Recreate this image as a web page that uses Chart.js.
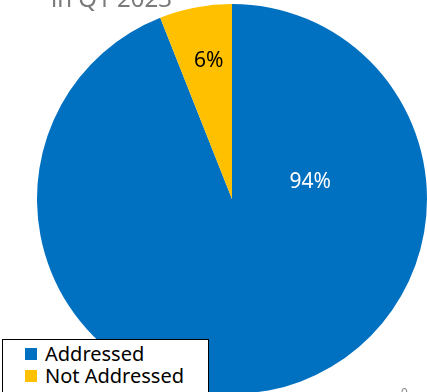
<!DOCTYPE html>
<html>
<head>
<meta charset="utf-8">
<script src="https://cdn.jsdelivr.net/npm/chart.js@4/dist/chart.umd.min.js"></script>
<style>
  html, body { margin: 0; padding: 0; background: #fff; }
  #page { position: relative; width: 427px; height: 392px; overflow: hidden; font-family: "Noto Sans", sans-serif; }
  #chartBox { position: absolute; left: 37px; top: 4px; width: 390px; height: 390px; }
  #title { position: absolute; left: 51px; top: -19px; font-size: 24px; color: #7a7a7a; white-space: nowrap; line-height: 34px; }
  #legend { position: absolute; left: 2px; top: 339px; width: 205px; height: 60px; border: 1px solid #000; background: #fff; }
  .item { position: absolute; left: 22px; height: 22px; font-size: 20px; line-height: 22px; color: #000; white-space: nowrap; }
  .item span { display: inline-block; width: 12px; height: 12px; margin-right: 8px; vertical-align: 1px; }
  #pageNo { position: absolute; left: 401px; top: 384px; font-size: 12px; color: #8a8a8a; }
</style>
</head>
<body>
<div id="page">
  <div id="chartBox"><canvas id="pieChart"></canvas></div>
  <div id="title">in Q1 2023</div>
  <div id="legend"></div>
  <div id="pageNo">9</div>
</div>
<script>
var categories = ['Addressed', 'Not Addressed'];
var shares = [94, 6];
var sliceColors = ['#0070C0', '#FFC000'];
var labelColors = ['#ffffff', '#000000'];

document.addEventListener('DOMContentLoaded', function() {
    // legend built from the same arrays
    var legend = document.getElementById('legend');
    categories.forEach(function(name, i) {
        var row = document.createElement('div');
        row.className = 'item';
        row.style.top = (3 + i * 22) + 'px';
        var sw = document.createElement('span');
        sw.style.background = sliceColors[i];
        row.appendChild(sw);
        row.appendChild(document.createTextNode(name));
        legend.appendChild(row);
    });

    // Excel-style label placement: angle (deg clockwise from top) and fraction of radius
    var labelSpots = [{ angle: 78, frac: 0.41 }, { angle: -9.5, frac: 0.72 }];

    var pieLabels = {
        id: 'pieLabels',
        afterDatasetsDraw: function(chart) {
            var ctx = chart.ctx;
            var meta = chart.getDatasetMeta(0);
            ctx.save();
            ctx.font = '21px "Noto Sans"';
            ctx.textAlign = 'center';
            ctx.textBaseline = 'middle';
            meta.data.forEach(function(arc, i) {
                var spot = labelSpots[i];
                var a = spot.angle * Math.PI / 180;
                var r = arc.outerRadius * spot.frac;
                ctx.fillStyle = labelColors[i];
                ctx.fillText(shares[i] + '%', arc.x + Math.sin(a) * r, arc.y - Math.cos(a) * r);
            });
            ctx.restore();
        }
    };

    var ctx = document.getElementById('pieChart').getContext('2d');
    new Chart(ctx, {
        type: 'pie',
        data: {
            labels: categories,
            datasets: [{
                data: shares,
                backgroundColor: sliceColors,
                borderWidth: 0
            }]
        },
        options: {
            responsive: true,
            maintainAspectRatio: false,
            animation: false,
            layout: { padding: 0 },
            plugins: {
                legend: { display: false },
                tooltip: { enabled: false },
                title: { display: false }
            }
        },
        plugins: [pieLabels]
    });
});
</script>
</body>
</html>
